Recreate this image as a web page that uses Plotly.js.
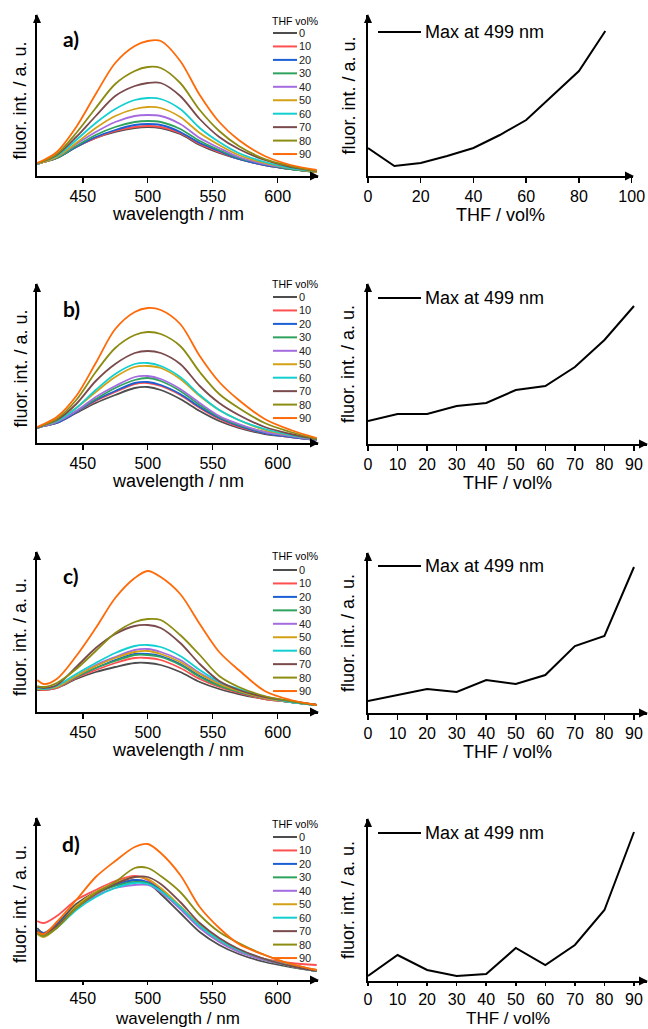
<!DOCTYPE html>
<html>
<head>
<meta charset="utf-8">
<script src="https://cdn.plot.ly/plotly-3.0.1.min.js"></script>
<style>
html,body{margin:0;padding:0;background:#ffffff;}
#chart{width:648px;height:1029px;}
</style>
</head>
<body>
<div id="chart"></div>
<script>
// ---------------- DATA ----------------
const WAVELENGTH = [415, 420, 430, 445, 460, 475, 490, 500, 510, 525, 540, 555, 570, 590, 610, 630];
const THF_VOL = [0, 10, 20, 30, 40, 50, 60, 70, 80, 90];
const SERIES_LABELS = ['0', '10', '20', '30', '40', '50', '60', '70', '80', '90'];
const SERIES_COLORS = ['#4d4d4d', '#ff4f4f', '#1c5fd4', '#2fa35e', '#a56ce0', '#d4a114', '#12cfd0', '#7a4a4c', '#8c8c12', '#ff6a08'];
const TICKS_WAVELENGTH = [450, 500, 550, 600];
const TICKS_THF_A = [0, 20, 40, 60, 80, 100];
const TICKS_THF = [0, 10, 20, 30, 40, 50, 60, 70, 80, 90];

// fluorescence spectra (a.u.), one row per THF vol%
const SPECTRA_A = [
  [12, 14, 18, 29, 38, 44, 48, 49, 48, 42, 31, 23, 17, 11, 7, 4],
  [12, 14, 18, 29, 38, 45, 49, 50, 49, 43, 32, 24, 17, 11, 7, 4],
  [12, 14, 18, 29, 39, 46, 51, 52, 51, 44, 33, 25, 17, 11, 7, 4],
  [12, 14, 18, 30, 41, 49, 54, 55, 54, 47, 35, 26, 18, 12, 7, 4],
  [12, 14, 19, 32, 44, 54, 60, 61, 60, 52, 38, 28, 19, 12, 8, 4],
  [12, 14, 19, 33, 48, 60, 67, 69, 68, 59, 43, 31, 21, 13, 8, 4],
  [12, 15, 20, 36, 53, 67, 76, 78, 77, 67, 48, 34, 23, 14, 8, 5],
  [13, 15, 21, 39, 60, 80, 90, 93, 93, 80, 57, 39, 27, 16, 9, 5],
  [13, 15, 22, 43, 68, 92, 105, 109, 108, 93, 66, 45, 30, 17, 10, 5],
  [13, 16, 24, 49, 82, 113, 130, 135, 135, 115, 81, 54, 36, 20, 11, 6]
];
const SPECTRA_B = [
  [15, 17, 20, 30, 40, 48, 55, 56, 53, 44, 32, 22, 15, 9, 6, 3],
  [15, 17, 20, 31, 42, 51, 59, 60, 57, 48, 35, 24, 16, 10, 6, 3],
  [15, 17, 20, 31, 43, 52, 60, 61, 58, 49, 36, 25, 17, 10, 6, 3],
  [15, 17, 21, 32, 44, 55, 63, 65, 62, 52, 38, 26, 18, 11, 7, 3],
  [15, 17, 21, 32, 46, 57, 66, 67, 64, 54, 40, 27, 19, 11, 7, 3],
  [15, 18, 22, 35, 51, 66, 76, 77, 75, 64, 47, 33, 23, 13, 8, 4],
  [15, 18, 22, 35, 53, 69, 79, 80, 77, 66, 48, 33, 23, 14, 8, 4],
  [15, 18, 23, 39, 62, 79, 90, 92, 90, 79, 57, 40, 28, 16, 9, 4],
  [16, 18, 24, 43, 71, 95, 108, 111, 109, 97, 71, 49, 35, 20, 11, 4],
  [16, 19, 26, 47, 80, 114, 131, 135, 133, 119, 87, 61, 43, 24, 13, 5]
];
const SPECTRA_C = [
  [22, 22, 24, 33, 40, 45, 49, 49, 47, 40, 30, 23, 18, 13, 10, 7],
  [23, 22, 24, 34, 42, 49, 54, 54, 52, 44, 33, 25, 19, 13, 10, 7],
  [23, 23, 25, 35, 44, 52, 58, 58, 56, 48, 36, 27, 20, 14, 10, 7],
  [23, 23, 25, 35, 44, 51, 57, 57, 55, 47, 35, 26, 20, 14, 10, 7],
  [24, 23, 25, 36, 47, 55, 62, 63, 60, 52, 39, 29, 22, 14, 10, 7],
  [23, 23, 25, 36, 46, 54, 60, 61, 58, 50, 38, 28, 21, 14, 10, 7],
  [24, 23, 26, 38, 49, 59, 66, 67, 65, 56, 42, 30, 23, 15, 10, 7],
  [25, 24, 27, 45, 64, 78, 86, 87, 84, 69, 48, 31, 22, 15, 11, 7],
  [26, 25, 29, 43, 61, 79, 90, 93, 92, 77, 57, 36, 25, 16, 11, 7],
  [32, 28, 33, 56, 84, 114, 134, 141, 135, 118, 88, 60, 42, 21, 12, 7]
];
const SPECTRA_D = [
  [52, 47, 56, 76, 88, 95, 100, 97, 86, 67, 48, 35, 26, 18, 13, 9],
  [59, 57, 64, 80, 90, 99, 104, 100, 90, 72, 54, 40, 29, 21, 17, 15],
  [50, 47, 55, 74, 87, 95, 100, 98, 90, 72, 53, 39, 29, 20, 14, 9],
  [49, 46, 54, 73, 86, 94, 98, 97, 89, 72, 53, 39, 29, 20, 14, 9],
  [48, 45, 53, 72, 84, 92, 95, 95, 88, 71, 52, 38, 28, 20, 14, 9],
  [46, 43, 52, 74, 88, 97, 103, 101, 92, 74, 55, 40, 30, 21, 14, 9],
  [47, 44, 52, 70, 83, 92, 97, 96, 89, 73, 54, 40, 30, 21, 14, 9],
  [49, 46, 54, 72, 86, 96, 103, 103, 96, 78, 57, 42, 31, 21, 14, 9],
  [47, 44, 52, 72, 87, 98, 112, 112, 104, 88, 65, 48, 37, 25, 16, 10],
  [48, 46, 58, 80, 103, 119, 133, 136, 127, 105, 73, 52, 36, 25, 16, 10]
];

// intensity at 499 nm vs THF vol% (a.u.)
const MAX499_A = [28, 10, 13, 20, 28, 41, 56, 80, 105, 145];
const MAX499_B = [23, 30, 30, 38, 41, 54, 58, 77, 104, 138];
const MAX499_C = [12, 18, 24, 21, 33, 29, 38, 67, 77, 146];
const MAX499_D = [5, 26, 11, 5, 7, 33, 16, 36, 71, 149];

// ---------------- LAYOUT CONSTANTS ----------------
const W = 648, H = 1029;
const FONT = '"Liberation Sans", Arial, sans-serif';
const fx = v => v / W;
const fy = v => 1 - v / H;

const PANELS = [
  {tag: 'a)', spectra: SPECTRA_A, maxVals: MAX499_A, ticksR: TICKS_THF_A, lTop: 15, lBot: 176, rTop: 15, rBot: 176, rEnd: 633, rMax: 100.5, legTitle: 21, legRow0: 33, tagY: 39, maxLegY: 32, tickLen: 5, titleSize: 18},
  {tag: 'b)', spectra: SPECTRA_B, maxVals: MAX499_B, ticksR: TICKS_THF, lTop: 284, lBot: 443, rTop: 284, rBot: 444, rEnd: 647, rMax: 94.4, legTitle: 284, legRow0: 297, tagY: 308, maxLegY: 298, tickLen: 5, titleSize: 18},
  {tag: 'c)', spectra: SPECTRA_C, maxVals: MAX499_C, ticksR: TICKS_THF, lTop: 552, lBot: 712, rTop: 553, rBot: 713, rEnd: 647, rMax: 94.4, legTitle: 556, legRow0: 570, tagY: 575, maxLegY: 566, tickLen: 5, titleSize: 18},
  {tag: 'd)', spectra: SPECTRA_D, maxVals: MAX499_D, ticksR: TICKS_THF, lTop: 818, lBot: 980, rTop: 819, rBot: 981, rEnd: 647, rMax: 94.4, legTitle: 824, legRow0: 837, tagY: 843, maxLegY: 833, tickLen: 3, titleSize: 17}
];
const L_X0 = 37, L_X1 = 318, R_X0 = 368;
const L_RANGE = [414.8, 631];
const ROW_GAP = 13.45;
const TICK_FONT = {family: FONT, size: 16, color: '#000000'};

const traces = [];
const layout = {
  width: W, height: H,
  margin: {l: 0, r: 0, t: 0, b: 0},
  paper_bgcolor: '#ffffff', plot_bgcolor: 'rgba(0,0,0,0)',
  showlegend: false, hovermode: false,
  font: {family: FONT, color: '#000000', size: 16},
  shapes: [], annotations: []
};

function axisBase() {
  return {showgrid: false, zeroline: false, showline: true, linecolor: '#000000', linewidth: 2, fixedrange: true};
}
function tri(points) {
  return {type: 'path', xref: 'paper', yref: 'paper', layer: 'above',
    path: 'M' + points.map(p => fx(p[0]) + ',' + fy(p[1])).join(' L') + ' Z',
    fillcolor: '#000000', line: {width: 0}};
}
function text(str, x, y, size, opts) {
  return Object.assign({text: str, x: fx(x), y: fy(y), xref: 'paper', yref: 'paper', showarrow: false,
    xanchor: 'center', yanchor: 'middle', borderpad: 0,
    font: {family: FONT, size: size, color: '#000000'}}, opts || {});
}

PANELS.forEach((p, i) => {
  const li = 2 * i + 1, ri = 2 * i + 2;
  const lxId = li === 1 ? 'x' : 'x' + li, lyId = li === 1 ? 'y' : 'y' + li;
  const rxId = 'x' + ri, ryId = 'y' + ri;

  // left: spectra
  layout['xaxis' + (li === 1 ? '' : li)] = Object.assign(axisBase(), {
    domain: [fx(L_X0), fx(L_X1)], range: L_RANGE, anchor: lyId,
    tickmode: 'array', tickvals: TICKS_WAVELENGTH, ticktext: TICKS_WAVELENGTH.map(String),
    ticks: 'outside', ticklen: p.tickLen, tickwidth: 1.5, tickcolor: '#000000', tickfont: TICK_FONT
  });
  layout['yaxis' + (li === 1 ? '' : li)] = Object.assign(axisBase(), {
    domain: [fy(p.lBot), fy(p.lTop)], range: [0, p.lBot - p.lTop], anchor: lxId,
    showticklabels: false, ticks: ''
  });
  p.spectra.forEach((vals, k) => {
    traces.push({x: WAVELENGTH, y: vals, xaxis: lxId, yaxis: lyId, type: 'scatter', mode: 'lines',
      name: SERIES_LABELS[k], hoverinfo: 'skip',
      line: {color: SERIES_COLORS[k], width: 1.8, shape: 'spline', smoothing: 0.9}});
  });

  // right: intensity at 499 nm
  layout['xaxis' + ri] = Object.assign(axisBase(), {
    domain: [fx(R_X0), fx(p.rEnd)], range: [0, p.rMax], anchor: ryId,
    tickmode: 'array', tickvals: p.ticksR, ticktext: p.ticksR.map(String),
    ticks: 'outside', ticklen: p.tickLen, tickwidth: 1.5, tickcolor: '#000000', tickfont: TICK_FONT
  });
  layout['yaxis' + ri] = Object.assign(axisBase(), {
    domain: [fy(p.rBot), fy(p.rTop)], range: [0, p.rBot - p.rTop], anchor: rxId,
    showticklabels: false, ticks: ''
  });
  traces.push({x: THF_VOL, y: p.maxVals, xaxis: rxId, yaxis: ryId, type: 'scatter', mode: 'lines',
    name: 'Max at 499 nm', hoverinfo: 'skip', line: {color: '#000000', width: 2}});

  // arrow heads
  layout.shapes.push(tri([[L_X1 + 1, p.lBot], [L_X1 - 8, p.lBot - 4.5], [L_X1 - 8, p.lBot + 4.5]]));
  layout.shapes.push(tri([[L_X0, p.lTop - 1], [L_X0 - 4, p.lTop + 8], [L_X0 + 4, p.lTop + 8]]));
  layout.shapes.push(tri([[p.rEnd + 1, p.rBot], [p.rEnd - 8, p.rBot - 4.5], [p.rEnd - 8, p.rBot + 4.5]]));
  layout.shapes.push(tri([[R_X0, p.rTop - 1], [R_X0 - 4, p.rTop + 8], [R_X0 + 4, p.rTop + 8]]));

  // legend for spectra
  layout.annotations.push(text('THF vol%', 295, p.legTitle, 10.5));
  SERIES_LABELS.forEach((lab, k) => {
    const yy = p.legRow0 + k * ROW_GAP;
    layout.shapes.push({type: 'line', xref: 'paper', yref: 'paper', x0: fx(273), x1: fx(297), y0: fy(yy), y1: fy(yy),
      line: {color: SERIES_COLORS[k], width: 2}});
    layout.annotations.push(text(lab, 298, yy, 11, {xanchor: 'left', font: {family: FONT, size: 11, color: '#222222'}}));
  });

  // legend for right panel
  layout.shapes.push({type: 'line', xref: 'paper', yref: 'paper', x0: fx(378), x1: fx(421), y0: fy(p.maxLegY), y1: fy(p.maxLegY),
    line: {color: '#000000', width: 2}});
  layout.annotations.push(text('Max at 499 nm', 424, p.maxLegY, 18, {xanchor: 'left'}));

  // panel tag
  layout.annotations.push(text('<b>' + p.tag + '</b>', 71, p.tagY, 21, {font: {family: 'Lato, "Open Sans", sans-serif', size: 21, color: '#000000'}}));

  // axis titles (kept inside the page)
  layout.annotations.push(text('wavelength / nm', (L_X0 + L_X1) / 2, Math.min(p.lBot + 38, H - 10.5), p.titleSize));
  layout.annotations.push(text('THF / vol%', (R_X0 + p.rEnd) / 2, Math.min(p.rBot + 39, H - 10.5), p.titleSize));
  layout.annotations.push(text('fluor. int. / a. u.', 20, (p.lTop + p.lBot) / 2 + 5, 18, {textangle: -90}));
  layout.annotations.push(text('fluor. int. / a. u.', 348, (p.rTop + p.rBot) / 2, 18, {textangle: -90}));
});

Plotly.newPlot('chart', traces, layout, {staticPlot: true, displayModeBar: false});
</script>
</body>
</html>
